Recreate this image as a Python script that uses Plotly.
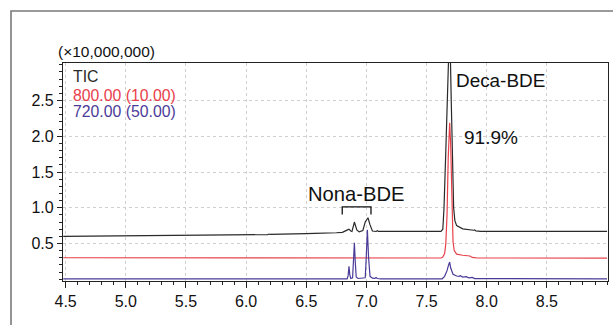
import plotly.graph_objects as go

# ---- data ----
tic_rt = [4.48, 5.37, 5.38, 5.39, 5.60, 5.62, 5.64, 6.00, 6.18, 6.19, 6.20, 6.50, 6.55, 6.57,
          6.75, 6.80, 6.83, 6.855, 6.87, 6.88, 6.90, 6.92, 6.94, 6.97, 6.99, 7.013, 7.03, 7.05,
          7.08, 7.09, 7.10, 7.33, 7.34, 7.36, 7.38, 7.40, 7.62, 7.635, 7.645, 7.66, 7.675,
          7.692, 7.705, 7.715, 7.725, 7.735, 7.75, 7.80, 7.85, 7.89, 7.90, 7.91, 7.95, 9.00]
tic_int = [0.600, 0.610, 0.616, 0.610, 0.612, 0.620, 0.614, 0.620, 0.624, 0.632, 0.626, 0.638,
           0.645, 0.642, 0.650, 0.655, 0.680, 0.700, 0.675, 0.668, 0.800, 0.690, 0.662, 0.680,
           0.800, 0.860, 0.760, 0.675, 0.668, 0.678, 0.668, 0.668, 0.676, 0.670, 0.676, 0.668,
           0.670, 0.700, 1.000, 1.800, 2.500, 3.600, 2.500, 1.600, 1.000, 0.820, 0.750, 0.705,
           0.690, 0.685, 0.690, 0.675, 0.670, 0.668]

m800_rt = [4.48, 7.62, 7.635, 7.65, 7.66, 7.67, 7.68, 7.692, 7.70, 7.71, 7.72, 7.73, 7.75,
           7.80, 7.84, 7.85, 7.86, 7.88, 7.92, 9.00]
m800_int = [0.300, 0.297, 0.310, 0.360, 0.500, 0.900, 1.700, 2.190, 1.900, 1.000, 0.520, 0.400,
            0.350, 0.335, 0.330, 0.336, 0.325, 0.305, 0.297, 0.295]

m720_rt = [4.48, 6.84, 6.848, 6.855, 6.862, 6.87, 6.885, 6.893, 6.90, 6.907, 6.915, 6.93, 6.99,
           6.997, 7.008, 7.018, 7.03, 7.05, 7.07, 7.08, 7.09, 7.12, 7.63, 7.65, 7.67, 7.683,
           7.692, 7.70, 7.72, 7.75, 7.77, 7.78, 7.80, 7.83, 7.85, 7.88, 7.90, 9.00]
m720_int = [0.005, 0.005, 0.050, 0.180, 0.060, 0.010, 0.020, 0.250, 0.510, 0.250, 0.030, 0.010,
            0.020, 0.250, 0.690, 0.300, 0.040, 0.015, 0.012, 0.025, 0.010, 0.006, 0.006, 0.040,
            0.120, 0.200, 0.240, 0.160, 0.070, 0.045, 0.040, 0.050, 0.030, 0.035, 0.020, 0.025,
            0.008, 0.005]

x_ticks = [4.5, 5.0, 5.5, 6.0, 6.5, 7.0, 7.5, 8.0, 8.5]
y_ticks = [0.5, 1.0, 1.5, 2.0, 2.5]

series_names = ["TIC", "800.00 (10.00)", "720.00 (50.00)"]
series_colors = ["#2a2a2a", "#e8404a", "#4b3b98"]

FONT = "Liberation Sans, Arial, sans-serif"

fig = go.Figure()
for rt, inten, name, col in [(tic_rt, tic_int, series_names[0], series_colors[0]),
                             (m800_rt, m800_int, series_names[1], series_colors[1]),
                             (m720_rt, m720_int, series_names[2], series_colors[2])]:
    fig.add_trace(go.Scatter(x=rt, y=inten, mode="lines", name=name,
                             line=dict(color=col, width=1.2), hoverinfo="skip"))

fig.update_layout(
    width=613, height=325,
    margin=dict(l=63, r=5, t=63, b=44),
    paper_bgcolor="white", plot_bgcolor="white",
    showlegend=False,
    font=dict(family=FONT, color="#111"),
)

fig.update_xaxes(
    range=[4.478, 9.008], tickvals=x_ticks, tickformat=".1f",
    ticks="outside", ticklen=6, tickwidth=1.2, tickcolor="#222",
    minor=dict(dtick=0.1, tick0=4.5, ticks="outside", ticklen=3, tickcolor="#222", showgrid=False),
    showline=True, linecolor="#222", linewidth=1.3, mirror=True,
    showgrid=True, gridcolor="#d0d0d0", griddash="dot", gridwidth=1,
    tickfont=dict(size=16, family=FONT, color="#111"), zeroline=False,
)
fig.update_yaxes(
    range=[-0.025, 3.025], tickvals=y_ticks, tickformat=".1f",
    ticks="outside", ticklen=5, tickwidth=1.2, tickcolor="#222",
    minor=dict(dtick=0.1, tick0=0, ticks="outside", ticklen=3, tickcolor="#222", showgrid=False),
    showline=True, linecolor="#222", linewidth=1.3, mirror=True,
    showgrid=True, gridcolor="#d0d0d0", griddash="dot", gridwidth=1,
    tickfont=dict(size=16, family=FONT, color="#111"), zeroline=False,
)

def px2paper(px, py):
    return (px - 63) / 545.0, (281 - py) / 218.0

annos = []
def add_text(txt, px, py, size, color="#111", xanchor="left"):
    xp, yp = px2paper(px, py)
    annos.append(dict(text=txt, x=xp, y=yp, xref="paper", yref="paper",
                      xanchor=xanchor, yanchor="middle", showarrow=False,
                      font=dict(size=size, family=FONT, color=color), borderpad=0))

add_text("(×10,000,000)", 106, 51.5, 15.5, xanchor="center")
add_text(series_names[0], 72, 76.5, 15.8, series_colors[0])
add_text(series_names[1], 72, 95, 15.8, series_colors[1])
add_text(series_names[2], 72, 111.5, 15.8, series_colors[2])
add_text("Deca-BDE", 455, 80, 18.9, "#111")
add_text("91.9%", 463, 137, 19, "#111")
add_text("Nona-BDE", 356, 194, 20.2, "#111", xanchor="center")
fig.update_layout(annotations=annos)

# bracket over Nona-BDE peaks (data coordinates)
fig.add_shape(type="path", xref="x", yref="y",
              path="M 6.799 0.907 L 6.799 1.013 L 7.038 1.013 L 7.038 0.907",
              line=dict(color="#111", width=1.3))

# outer frame (top and left edges visible)
x0, y0 = px2paper(11, 330)
x1, y1 = px2paper(620, 11)
fig.add_shape(type="path", xref="paper", yref="paper",
              path=f"M {x0} {y0} L {x0} {y1} L {x1} {y1}",
              line=dict(color="#7a7a7a", width=1.6))

fig.write_html("out.html", config={"displayModeBar": False},
               post_script="document.body.style.margin='0';document.body.style.overflow='hidden';")
